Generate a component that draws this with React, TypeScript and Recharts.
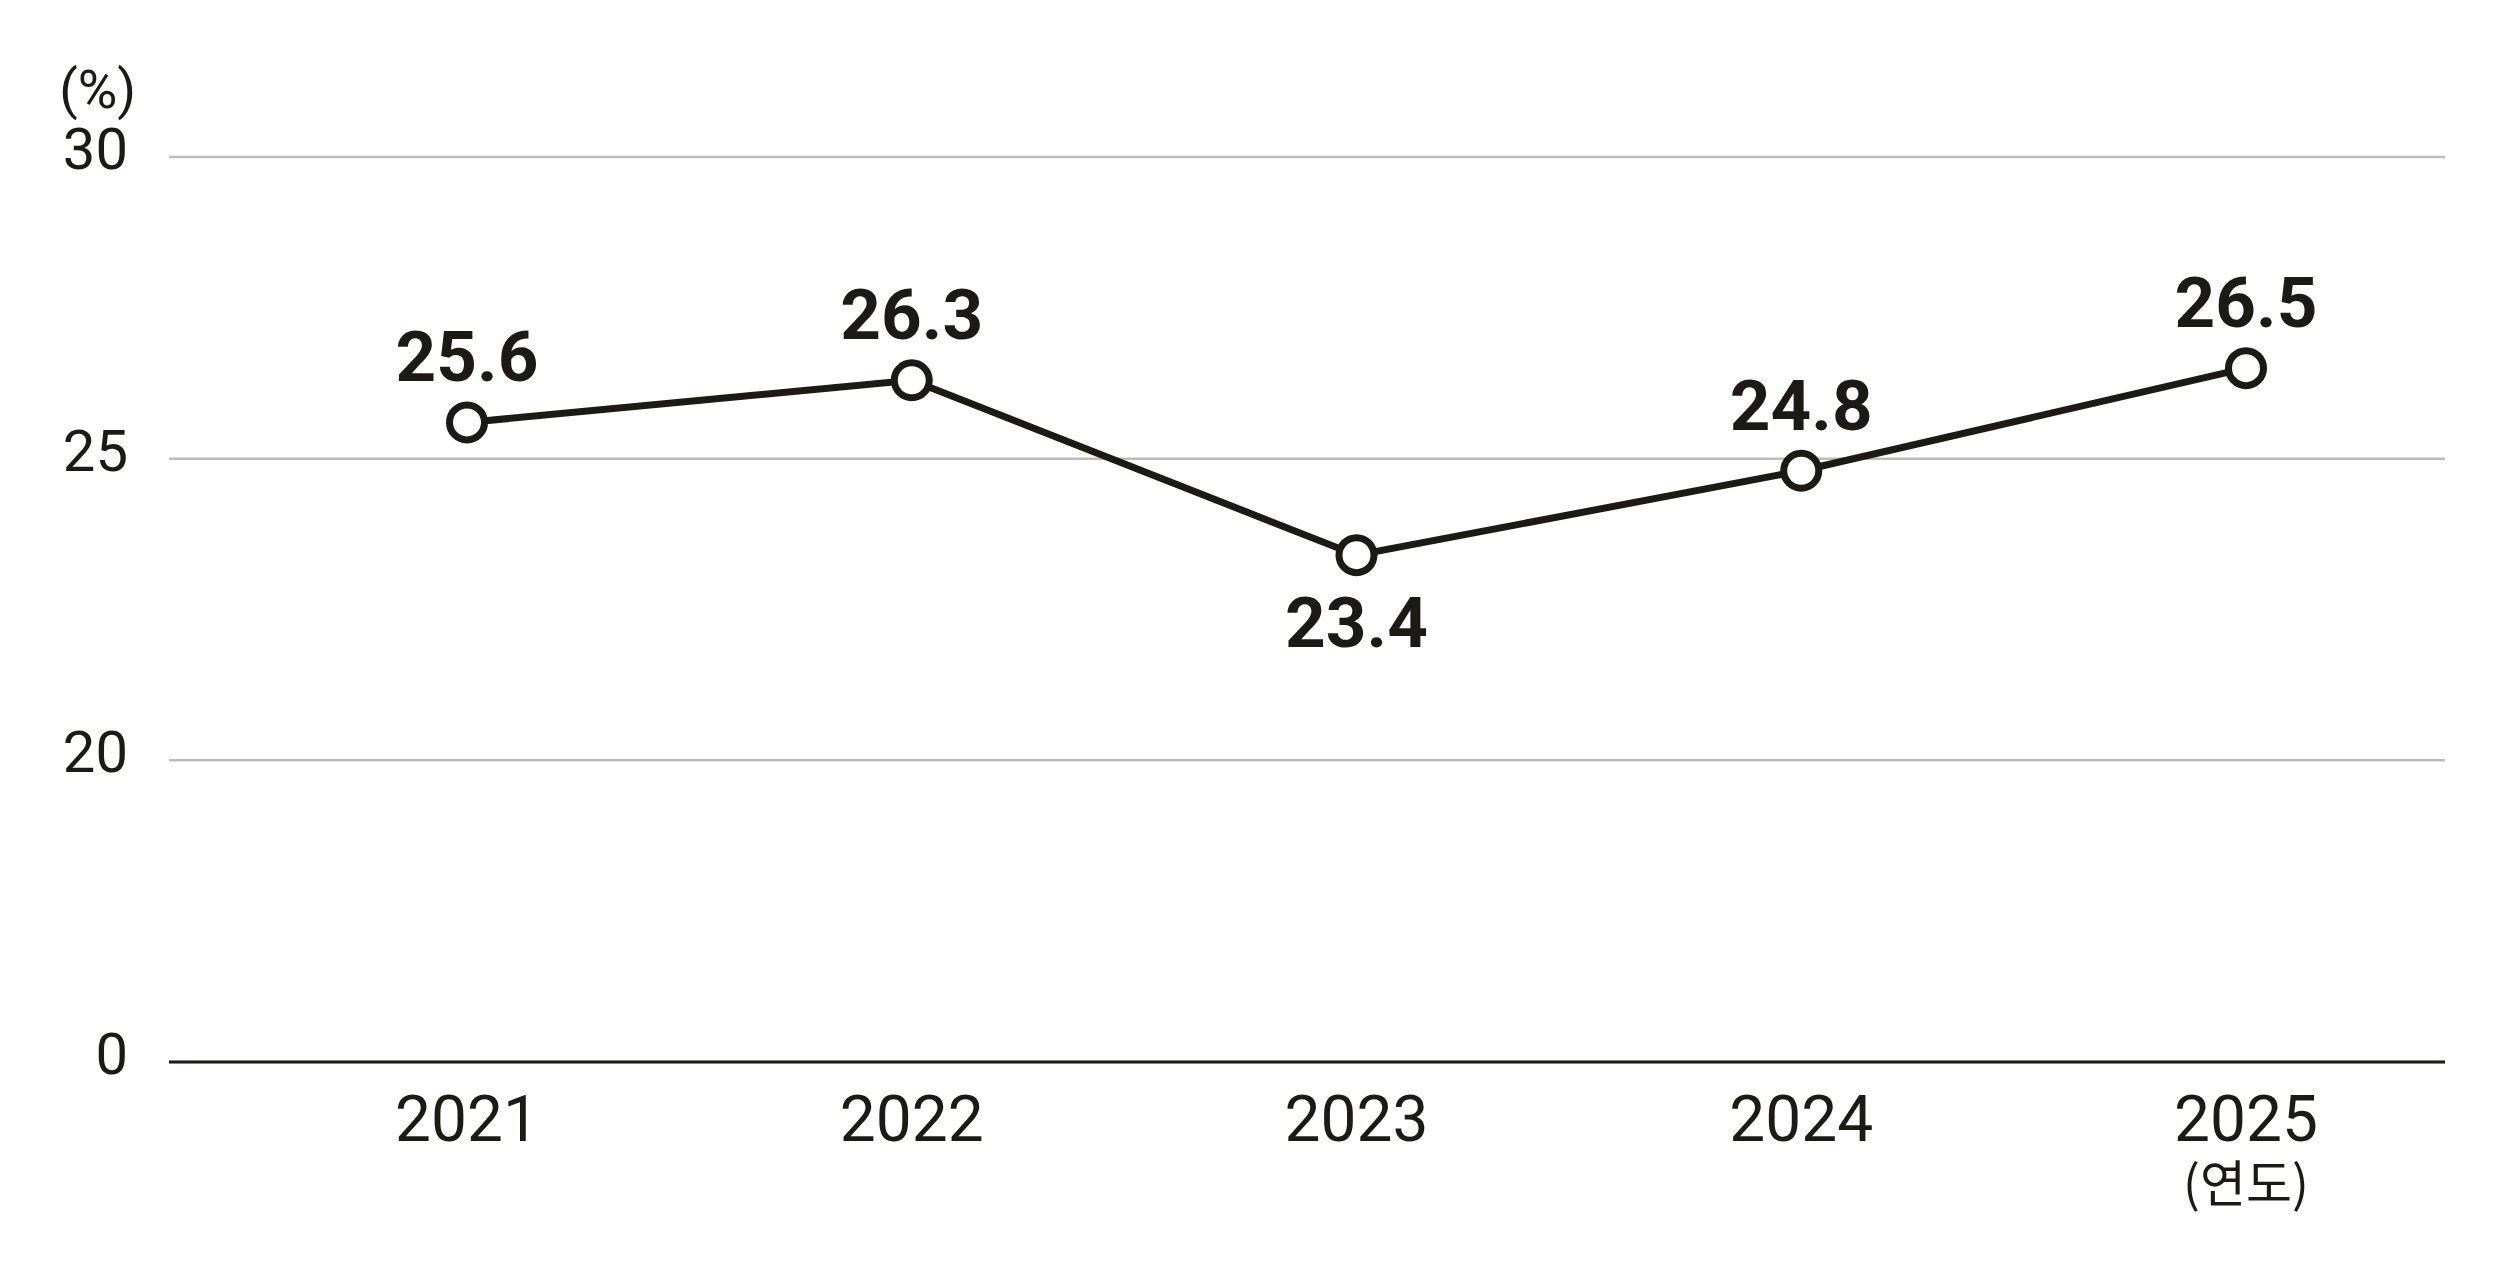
import React from "react";
import { LineChart, Line, XAxis, YAxis, CartesianGrid, LabelList } from "recharts";

/* ─── Data ───────────────────────────────────────────────────────────────── */
const years = ["2021", "2022", "2023", "2024", "2025"];
const rates = [25.6, 26.3, 23.4, 24.8, 26.5];
const yTicks = [15, 20, 25, 30]; // 15 sits on the baseline, shown as "0" (broken axis)
const yUnit = "(%)";
const xUnit = "(연도)";

const data = years.map((year, i) => ({ year, rate: rates[i] }));

/* ─── Styles ─────────────────────────────────────────────────────────────── */
const INK = "#1c1a17";
const GRID = "#bcbcbc";
const FONT = "Roboto, 'Noto Sans', sans-serif";
const KR_FONT = "'Noto Sans CJK KR', sans-serif";

function YTick({ x, y, payload }: any) {
  const label = payload.value === yTicks[0] ? "0" : String(payload.value);
  return (
    <text x={x} y={y + 12} textAnchor="end" fontFamily={FONT} fontSize={58} fill={INK}>
      {label}
    </text>
  );
}

function XTick({ x, y, payload, index }: any) {
  const last = index === years.length - 1;
  return (
    <g>
      <text x={x} y={y + 77} textAnchor="middle" fontFamily={FONT} fontSize={64} fill={INK}>
        {payload.value}
      </text>
      {last && (
        <text x={x} y={y + 138} textAnchor="middle" fontFamily={KR_FONT} fontSize={50} fill={INK}>
          {xUnit}
        </text>
      )}
    </g>
  );
}

// labels go under the point when it is a local dip, above otherwise
function isDip(i: number) {
  const prev = rates[i - 1];
  const next = rates[i + 1];
  return prev !== undefined && next !== undefined && rates[i] < prev && rates[i] < next;
}

function ValueLabel({ x, y, value, index }: any) {
  const below = isDip(index);
  return (
    <text
      x={x}
      y={below ? y + 92 : y - 41}
      textAnchor="middle"
      fontFamily={FONT}
      fontWeight={700}
      fontSize={71}
      fill={INK}
    >
      {Number(value).toFixed(1)}
    </text>
  );
}

function UnitLabel({ viewBox }: any) {
  return (
    <text
      x={viewBox.x + 136}
      y={108}
      textAnchor="end"
      fontFamily={FONT}
      fontSize={54}
      fill={INK}
    >
      {yUnit}
    </text>
  );
}

export default function App() {
  return (
    <div style={{ width: 2505, height: 1274, background: "#ffffff" }}>
      <style>{`body { margin: 0; background: #ffffff; }`}</style>
      <LineChart
        width={2505}
        height={1274}
        data={data}
        margin={{ top: 157, right: 60, left: 0, bottom: 0 }}
      >
        <CartesianGrid vertical={false} stroke={GRID} strokeWidth={2.5} />
        <XAxis
          dataKey="year"
          scale="point"
          padding={{ left: 298, right: 199 }}
          height={212}
          axisLine={{ stroke: INK, strokeWidth: 3 }}
          tickLine={false}
          tickSize={0}
          tick={<XTick />}
          interval={0}
        />
        <YAxis
          type="number"
          domain={[15, 30]}
          ticks={yTicks}
          width={169}
          axisLine={false}
          tickLine={false}
          tickSize={0}
          tickMargin={41}
          tick={<YTick />}
          allowDataOverflow
          label={<UnitLabel />}
        />
        <Line
          type="linear"
          dataKey="rate"
          stroke={INK}
          strokeWidth={7}
          dot={{ r: 17.5, fill: "#ffffff", stroke: INK, strokeWidth: 7 }}
          activeDot={false}
          isAnimationActive={false}
        >
          <LabelList dataKey="rate" content={<ValueLabel />} />
        </Line>
      </LineChart>
    </div>
  );
}
